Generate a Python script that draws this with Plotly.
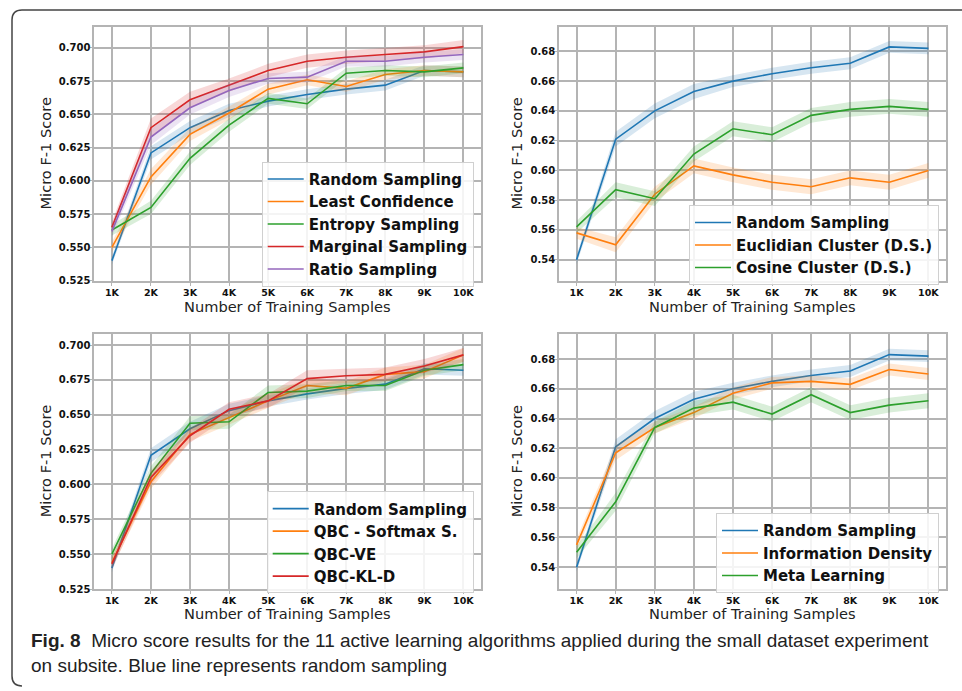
import plotly.graph_objects as go

W, H = 962, 691

# ---------------- data ----------------
samples = [1000, 2000, 3000, 4000, 5000, 6000, 7000, 8000, 9000, 10000]
sample_labels = ["1K", "2K", "3K", "4K", "5K", "6K", "7K", "8K", "9K", "10K"]

random_sampling = [0.540, 0.621, 0.640, 0.653, 0.660, 0.665, 0.669, 0.672, 0.683, 0.682]
random_band = [0.003, 0.005, 0.005, 0.005, 0.004, 0.004, 0.004, 0.004, 0.004, 0.004]

# panel 1: uncertainty sampling
least_confidence = [0.550, 0.603, 0.635, 0.651, 0.669, 0.676, 0.671, 0.680, 0.683, 0.682]
least_conf_band = [0.004, 0.006, 0.005, 0.005, 0.004, 0.004, 0.004, 0.004, 0.004, 0.004]
entropy_sampling = [0.563, 0.580, 0.617, 0.642, 0.662, 0.658, 0.681, 0.683, 0.682, 0.685]
entropy_band = [0.004, 0.005, 0.005, 0.005, 0.004, 0.004, 0.004, 0.004, 0.004, 0.004]
marginal_sampling = [0.565, 0.640, 0.661, 0.672, 0.683, 0.690, 0.693, 0.695, 0.697, 0.701]
marginal_band = [0.004, 0.007, 0.006, 0.005, 0.005, 0.005, 0.005, 0.005, 0.005, 0.005]
ratio_sampling = [0.562, 0.633, 0.655, 0.668, 0.677, 0.678, 0.690, 0.690, 0.693, 0.695]
ratio_band = [0.004, 0.006, 0.005, 0.005, 0.004, 0.004, 0.004, 0.004, 0.004, 0.004]

# panel 2: density sampling
euclidian_cluster = [0.558, 0.550, 0.584, 0.603, 0.597, 0.592, 0.589, 0.595, 0.592, 0.600]
euclidian_band = [0.004, 0.005, 0.005, 0.005, 0.005, 0.005, 0.005, 0.005, 0.005, 0.005]
cosine_cluster = [0.562, 0.587, 0.581, 0.611, 0.628, 0.624, 0.637, 0.641, 0.643, 0.641]
cosine_band = [0.004, 0.005, 0.005, 0.005, 0.005, 0.005, 0.005, 0.005, 0.005, 0.005]

# panel 3: query by committee
qbc_softmax = [0.544, 0.602, 0.636, 0.648, 0.660, 0.671, 0.669, 0.679, 0.681, 0.693]
qbc_softmax_band = [0.004, 0.005, 0.005, 0.005, 0.005, 0.005, 0.005, 0.005, 0.005, 0.005]
qbc_ve = [0.550, 0.608, 0.644, 0.645, 0.666, 0.667, 0.671, 0.671, 0.682, 0.686]
qbc_ve_band = [0.004, 0.005, 0.005, 0.005, 0.005, 0.005, 0.004, 0.004, 0.004, 0.004]
qbc_kld = [0.543, 0.605, 0.635, 0.654, 0.660, 0.676, 0.678, 0.679, 0.685, 0.693]
qbc_kld_band = [0.004, 0.005, 0.005, 0.005, 0.005, 0.006, 0.005, 0.005, 0.005, 0.005]

# panel 4: other strategies
information_density = [0.555, 0.617, 0.634, 0.644, 0.657, 0.664, 0.665, 0.663, 0.673, 0.670]
info_density_band = [0.004, 0.005, 0.004, 0.004, 0.004, 0.004, 0.004, 0.004, 0.004, 0.004]
meta_learning = [0.550, 0.584, 0.634, 0.647, 0.651, 0.643, 0.656, 0.644, 0.649, 0.652]
meta_band = [0.004, 0.006, 0.004, 0.005, 0.005, 0.005, 0.005, 0.005, 0.005, 0.005]

y_ticks_a = [0.525, 0.550, 0.575, 0.600, 0.625, 0.650, 0.675, 0.700]
y_ticks_b = [0.54, 0.56, 0.58, 0.60, 0.62, 0.64, 0.66, 0.68]

panels = [
    [("Random Sampling", random_sampling, random_band),
     ("Least Confidence", least_confidence, least_conf_band),
     ("Entropy Sampling", entropy_sampling, entropy_band),
     ("Marginal Sampling", marginal_sampling, marginal_band),
     ("Ratio Sampling", ratio_sampling, ratio_band)],
    [("Random Sampling", random_sampling, random_band),
     ("Euclidian Cluster (D.S.)", euclidian_cluster, euclidian_band),
     ("Cosine Cluster (D.S.)", cosine_cluster, cosine_band)],
    [("Random Sampling", random_sampling, random_band),
     ("QBC - Softmax S.", qbc_softmax, qbc_softmax_band),
     ("QBC-VE", qbc_ve, qbc_ve_band),
     ("QBC-KL-D", qbc_kld, qbc_kld_band)],
    [("Random Sampling", random_sampling, random_band),
     ("Information Density", information_density, info_density_band),
     ("Meta Learning", meta_learning, meta_band)],
]

colors = ["#1f77b4", "#ff7f0e", "#2ca02c", "#d62728", "#9467bd"]
fills = ["rgba(31,119,180,0.18)", "rgba(255,127,14,0.18)", "rgba(44,160,44,0.18)",
         "rgba(214,39,40,0.18)", "rgba(148,103,189,0.18)"]

# ---------------- layout geometry (pixels) ----------------
def px(x):
    return x / W

def py(y):
    return 1 - y / H

# plot areas: (left, right, top, bottom) in pixels
areas = [(94.3, 481, 26.7, 283.3), (559, 946, 26.7, 283.3),
         (94.3, 481, 336.7, 593.3), (559, 946, 336.7, 593.3)]
y_ranges = [[0.5245, 0.7161], [0.5255, 0.6967], [0.5250, 0.7078], [0.5253, 0.6967]]
y_tick_sets = [y_ticks_a, y_ticks_b, y_ticks_a, y_ticks_b]
y_tick_fmt = ["%.3f", "%.2f", "%.3f", "%.2f"]
legend_pos = [(261.7, 163), (689, 206.7), (266.7, 495), (716, 517)]

fig = go.Figure()
layout = dict(
    width=W, height=H,
    margin=dict(l=0, r=0, t=0, b=0),
    paper_bgcolor="white", plot_bgcolor="white",
    font=dict(family="DejaVu Sans", color="#111111"),
    showlegend=True,
)

grid_col = "#b4b4b4"
for i, series in enumerate(panels):
    k = "" if i == 0 else str(i + 1)
    xa, ya = "x" + k, "y" + k
    lg = "legend" + k
    for j, (name, vals, band) in enumerate(series):
        upper = [v + b for v, b in zip(vals, band)]
        lower = [v - b for v, b in zip(vals, band)]
        fig.add_trace(go.Scatter(
            x=samples + samples[::-1], y=upper + lower[::-1],
            fill="toself", fillcolor=fills[j], line=dict(width=0),
            mode="lines", hoverinfo="skip", showlegend=False,
            xaxis=xa, yaxis=ya, legend=lg))
        fig.add_trace(go.Scatter(
            x=samples, y=vals, mode="lines", name=name,
            line=dict(color=colors[j], width=1.6),
            xaxis=xa, yaxis=ya, legend=lg))
    l, r, t, b = areas[i]
    layout["xaxis" + k] = dict(
        domain=[px(l), px(r)], anchor=ya, range=[550, 10450],
        tickvals=samples, ticktext=sample_labels,
        tickfont=dict(family="DejaVu Sans", size=9.5, weight="bold", color="#111111"),
        showgrid=True, gridcolor=grid_col, gridwidth=1.6,
        showline=True, linecolor=grid_col, linewidth=1.6, mirror=True,
        ticks="outside", ticklen=3, tickcolor=grid_col, tickwidth=1,
        ticklabelstandoff=-1,
        zeroline=False, fixedrange=True)
    layout["yaxis" + k] = dict(
        domain=[py(b), py(t)], anchor=xa, range=y_ranges[i],
        tickvals=y_tick_sets[i], ticktext=[y_tick_fmt[i] % v for v in y_tick_sets[i]],
        tickfont=dict(family="DejaVu Sans", size=10, weight="bold", color="#111111"),
        showgrid=True, gridcolor=grid_col, gridwidth=1.6,
        showline=True, linecolor=grid_col, linewidth=1.6, mirror=True,
        ticks="outside", ticklen=3, tickcolor=grid_col, tickwidth=1,
        ticklabelstandoff=-3,
        zeroline=False, fixedrange=True)
    lx, ly = legend_pos[i]
    layout[lg] = dict(
        x=px(lx), y=py(ly), xanchor="left", yanchor="top",
        bgcolor="rgba(255,255,255,0.85)", bordercolor="#d0d0d0", borderwidth=1,
        font=dict(family="DejaVu Sans", size=15, weight="bold", color="#111111"),
        tracegroupgap=0, itemwidth=36)

fig.update_layout(**layout)

# axis titles
annotations = []
for i in range(4):
    l, r, t, b = areas[i]
    ytx = 45.6 if i % 2 == 0 else 516.7
    annotations.append(dict(
        x=px(ytx), y=py((t + b) / 2), xref="paper", yref="paper",
        text="Micro F-1 Score", textangle=-90, showarrow=False,
        xanchor="center", yanchor="middle",
        font=dict(family="DejaVu Sans", size=14.6, color="#222222")))
    annotations.append(dict(
        x=px((l + r) / 2), y=py(b + 25), xref="paper", yref="paper",
        text="Number of Training Samples", showarrow=False,
        xanchor="center", yanchor="middle",
        font=dict(family="DejaVu Sans", size=14.6, color="#222222")))

cap_font = "Liberation Sans, Arial, sans-serif"
annotations.append(dict(
    x=px(29), y=py(645), xref="paper", yref="paper", showarrow=False,
    xanchor="left", yanchor="middle",
    text="<b>Fig. 8</b>  Micro score results for the 11 active learning algorithms applied during the small dataset experiment",
    font=dict(family=cap_font, size=19, color="#222222")))
annotations.append(dict(
    x=px(29), y=py(670), xref="paper", yref="paper", showarrow=False,
    xanchor="left", yanchor="middle",
    text="on subsite. Blue line represents random sampling",
    font=dict(family=cap_font, size=19, color="#222222")))
fig.update_layout(annotations=annotations)

# outer frame with rounded corners
frame = (f"M {px(962)},{py(10)} L {px(22)},{py(10)} "
         f"Q {px(12)},{py(10)} {px(12)},{py(20)} "
         f"L {px(12)},{py(681)} Q {px(12)},{py(691)} {px(22)},{py(691)}")
fig.add_shape(type="path", path=frame, xref="paper", yref="paper",
              line=dict(color="#444444", width=1.5), layer="above")

fig.write_html("out.html", config={"displayModeBar": False},
               post_script="document.body.style.margin='0';document.body.style.padding='0';")
